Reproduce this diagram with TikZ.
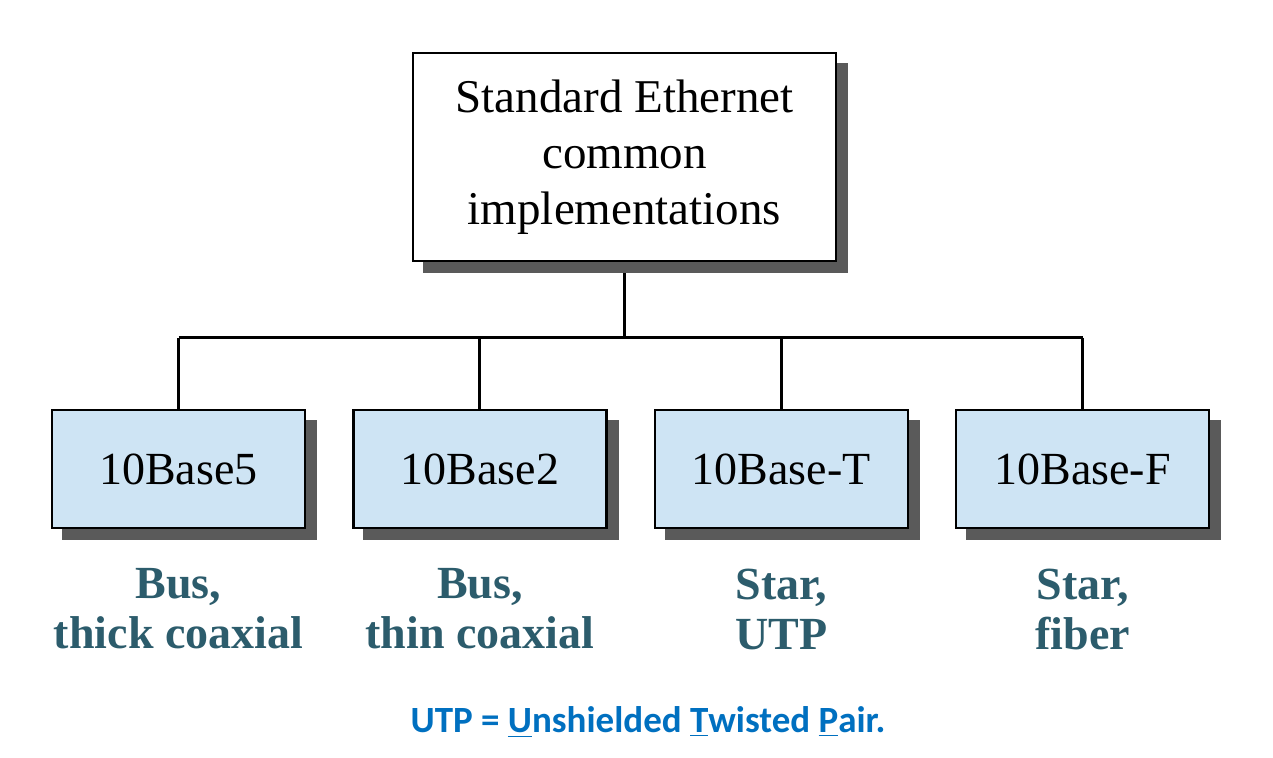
\documentclass[tikz,border=0pt]{standalone}
\usepackage{fontspec}
\setmainfont{Liberation Serif}
\newfontfamily\notefont{Carlito}
\usetikzlibrary{backgrounds, positioning, shadows}
\definecolor{boxblue}{RGB}{206,228,244}
\definecolor{shadowgray}{RGB}{90,90,90}
\definecolor{labelteal}{RGB}{44,92,108}
\definecolor{noteblue}{RGB}{0,112,192}
\newcommand{\boxwidth}{126.5pt}
\newcommand{\boxheight}{59pt}
\tikzstyle{rootbox} = [% the root of the tree
  rectangle,
  minimum width=211.5pt,
  minimum height=104pt,
  align=center,
  draw=black,
  line width=1.2pt,
  fill=white,
  font=\fontsize{23.5}{28}\selectfont,
  copy shadow={shadow xshift=5.5pt, shadow yshift=-5.5pt, fill=shadowgray, draw=shadowgray}
]
\tikzstyle{kindbox} = [% one implementation
  rectangle,
  minimum width=\boxwidth,
  minimum height=\boxheight,
  text centered,
  draw=black,
  line width=1.2pt,
  fill=boxblue,
  font=\fontsize{23}{27.5}\selectfont,
  copy shadow={shadow xshift=5.5pt, shadow yshift=-5.5pt, fill=shadowgray, draw=shadowgray}
]
\tikzstyle{topology} = [% topology and medium under a box
  align=center,
  inner sep=0pt,
  text=labelteal,
  font=\bfseries\fontsize{23}{25}\selectfont
]
\tikzstyle{tree} = [% connector format
  line width=1.5pt
]

\begin{document}
\begin{tikzpicture}[x=0.5pt, y=-0.5pt]
\useasboundingbox (0,0) rectangle (1273,758);

%%% Nodes
\node[rootbox] (root) at (624.5,157) {Standard Ethernet\\common\\implementations};

\node[kindbox] (base5) at (178.5,469) {10Base5};
\node[kindbox] (base2) [right=23pt of base5] {10Base2};
\node[kindbox] (baseT) [right=23pt of base2] {10Base-T};
\node[kindbox] (baseF) [right=23pt of baseT] {10Base-F};

\node[topology] (bus5) [below=19.5pt of base5] {Bus,\\thick coaxial};
\node[topology] (bus2) [below=19.5pt of base2] {Bus,\\thin coaxial};
\node[topology] (starT) [below=19.5pt of baseT] {Star,\\UTP};
\node[topology] (starF) [below=19.5pt of baseF] {Star,\\fiber};

\node[text=noteblue, font=\notefont\bfseries\fontsize{18.5}{22}\selectfont] (note) at (648,722)
  {UTP = \underline{U}nshielded \underline{T}wisted \underline{P}air.};

%%% Connectors
\coordinate (split) at (624.5,338);
\begin{scope}[on background layer]
  \fill[white] (0,0) rectangle (1273,758);
  \draw[tree] (root.south) -- (root.south |- split);
  \draw[tree] (base5.north |- split) -- (baseF.north |- split);
  \foreach \kind in {base5, base2, baseT, baseF}
    \draw[tree] (\kind.north |- split) -- (\kind.north);
\end{scope}

\end{tikzpicture}
\end{document}
